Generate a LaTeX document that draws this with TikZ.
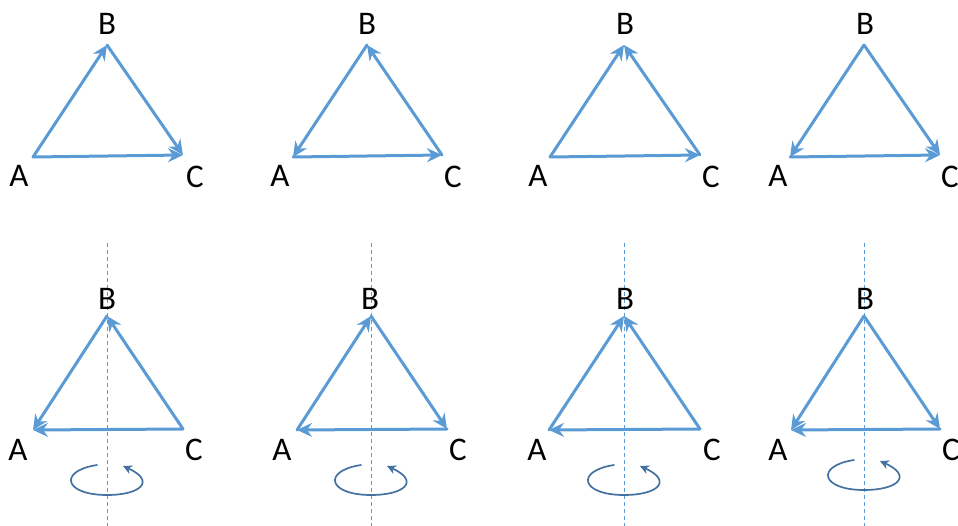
\documentclass[tikz,border=0pt]{standalone}
\usepackage{fontspec}
\setmainfont{Carlito}
\usetikzlibrary{arrows.meta}
\definecolor{edgeblue}{RGB}{91,155,213}
\definecolor{turnblue}{RGB}{68,114,160}

\begin{document}
\begin{tikzpicture}[x=1pt, y=-1pt,
        lbl/.style={font=\fontsize{33}{36}\selectfont, inner sep=0pt},
        edge/.style={edgeblue, line width=3pt, line cap=round, -{Stealth[length=15pt, width=14pt, inset=5pt]}},
        axis/.style={edgeblue, line width=1pt, dash pattern=on 4pt off 3pt},
        turn/.style={turnblue, line width=1.7pt, line cap=round, -{Stealth[length=9pt, width=9pt]}}]

        \useasboundingbox (0,0) rectangle (958,526);

        % Dreieck 1
        \coordinate (a1) at (33,157);
        \coordinate (b1) at (107,45);
        \coordinate (c1) at (183,155);
        \node[lbl] (la1) at (19,176) {A};
        \node[lbl] (lb1) at (107,24) {B};
        \node[lbl] (lc1) at (195,177) {C};
        \draw[edge] (a1) -- (b1);
        \draw[edge] (b1) -- (c1);
        \draw[edge] (a1) -- (c1);

        % Dreieck 2
        \coordinate (a2) at (293,157);
        \coordinate (b2) at (367,45);
        \coordinate (c2) at (442,155);
        \node[lbl] (la2) at (280,176) {A};
        \node[lbl] (lb2) at (367,24) {B};
        \node[lbl] (lc2) at (453,177) {C};
        \draw[edge] (b2) -- (a2);
        \draw[edge] (c2) -- (b2);
        \draw[edge] (a2) -- (c2);

        % Dreieck 3
        \coordinate (a3) at (550,157);
        \coordinate (b3) at (624,45);
        \coordinate (c3) at (700,155);
        \node[lbl] (la3) at (538,176) {A};
        \node[lbl] (lb3) at (625,24) {B};
        \node[lbl] (lc3) at (711,177) {C};
        \draw[edge] (a3) -- (b3);
        \draw[edge] (c3) -- (b3);
        \draw[edge] (a3) -- (c3);

        % Dreieck 4
        \coordinate (a4) at (790,157);
        \coordinate (b4) at (864,45);
        \coordinate (c4) at (940,155);
        \node[lbl] (la4) at (778,176) {A};
        \node[lbl] (lb4) at (865,24) {B};
        \node[lbl] (lc4) at (950,177) {C};
        \draw[edge] (b4) -- (a4);
        \draw[edge] (b4) -- (c4);
        \draw[edge] (a4) -- (c4);

        % Dreieck 5 (gespiegelt)
        \coordinate (p5) at (107,243);
        \coordinate (q5) at (107,526);
        \draw[axis] (p5) -- (q5);
        \coordinate (a5) at (33,430);
        \coordinate (b5) at (107,316);
        \coordinate (c5) at (183,429);
        \node[lbl] (la5) at (18,450) {A};
        \node[lbl] (lb5) at (107,299) {B};
        \node[lbl] (lc5) at (194,450) {C};
        \draw[edge] (b5) -- (a5);
        \draw[edge] (c5) -- (b5);
        \draw[edge] (c5) -- (a5);
        \draw[turn] (97,465) .. controls (58,471) and (64,495) .. (107,495)
            .. controls (141,495) and (156,481) .. (123,466);

        % Dreieck 6 (gespiegelt)
        \coordinate (p6) at (371,243);
        \coordinate (q6) at (371,526);
        \draw[axis] (p6) -- (q6);
        \coordinate (a6) at (297,430);
        \coordinate (b6) at (371,316);
        \coordinate (c6) at (447,429);
        \node[lbl] (la6) at (282,450) {A};
        \node[lbl] (lb6) at (370,299) {B};
        \node[lbl] (lc6) at (458,450) {C};
        \draw[edge] (a6) -- (b6);
        \draw[edge] (b6) -- (c6);
        \draw[edge] (c6) -- (a6);
        \draw[turn] (361,465) .. controls (322,471) and (328,495) .. (371,495)
            .. controls (405,495) and (420,481) .. (387,466);

        % Dreieck 7 (gespiegelt)
        \coordinate (p7) at (624,243);
        \coordinate (q7) at (624,526);
        \draw[axis] (p7) -- (q7);
        \coordinate (a7) at (549,430);
        \coordinate (b7) at (624,316);
        \coordinate (c7) at (700,429);
        \node[lbl] (la7) at (537,450) {A};
        \node[lbl] (lb7) at (625,299) {B};
        \node[lbl] (lc7) at (712,450) {C};
        \draw[edge] (a7) -- (b7);
        \draw[edge] (c7) -- (b7);
        \draw[edge] (c7) -- (a7);
        \draw[turn] (614,465) .. controls (575,471) and (581,495) .. (624,495)
            .. controls (658,495) and (673,481) .. (640,466);

        % Dreieck 8 (gespiegelt)
        \coordinate (p8) at (864,243);
        \coordinate (q8) at (864,526);
        \draw[axis] (p8) -- (q8);
        \coordinate (a8) at (791,430);
        \coordinate (b8) at (864,316);
        \coordinate (c8) at (940,429);
        \node[lbl] (la8) at (778,450) {A};
        \node[lbl] (lb8) at (865,299) {B};
        \node[lbl] (lc8) at (951,450) {C};
        \draw[edge] (b8) -- (a8);
        \draw[edge] (b8) -- (c8);
        \draw[edge] (c8) -- (a8);
        \draw[turn] (854,460) .. controls (815,466) and (821,490) .. (864,490)
            .. controls (898,490) and (913,476) .. (880,461);
    \end{tikzpicture}
\end{document}
